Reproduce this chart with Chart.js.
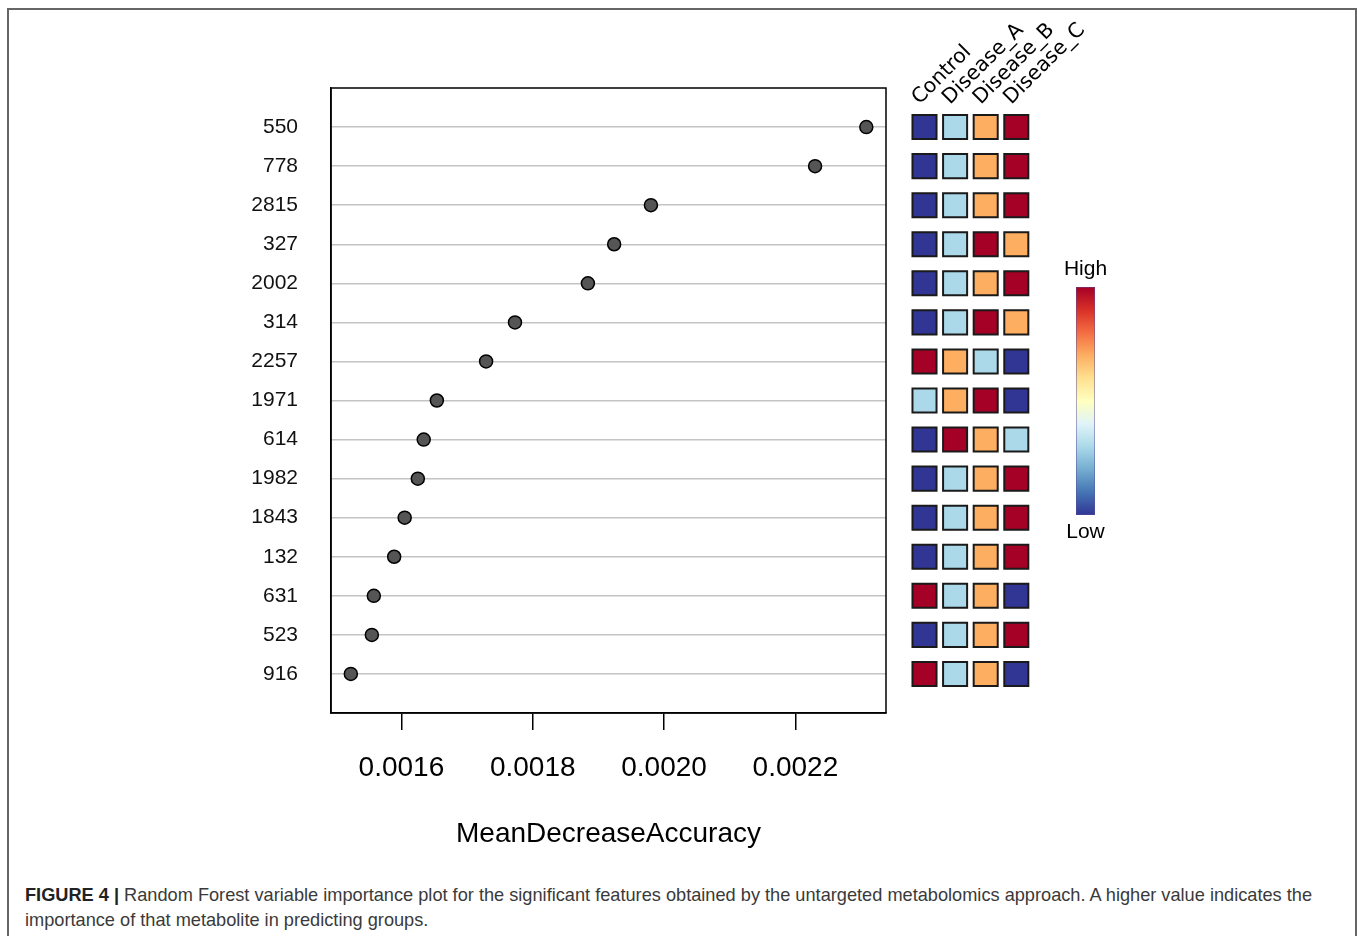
<!DOCTYPE html>
<html>
<head>
<meta charset="utf-8">
<script src="https://cdn.jsdelivr.net/npm/chart.js@4/dist/chart.umd.min.js"></script>
<style>
    html, body { margin: 0; padding: 0; background: #fff; }
    body { width: 1357px; height: 936px; position: relative; overflow: hidden; }
    .figure-box {
        position: absolute; left: 7px; top: 8px; width: 1346px; height: 1000px;
        border: 2px solid #666; border-bottom: none;
    }
    canvas { position: absolute; top: 0; }
    #dotChart { left: 0; }
    #groupChart { left: 890px; }
    .caption {
        position: absolute; left: 25px; top: 883px;
        font-family: "Liberation Sans", Arial, sans-serif; font-size: 18.2px;
        line-height: 25px; color: #3a3a3a; white-space: nowrap;
    }
    .caption b { color: #222; }
</style>
</head>
<body>
<div class="figure-box"></div>
<canvas id="dotChart" width="900" height="880"></canvas>
<canvas id="groupChart" width="260" height="880"></canvas>
<div class="caption">
    <b>FIGURE 4 |</b> Random Forest variable importance plot for the significant features obtained by the untargeted metabolomics approach. A higher value indicates the<br>
    importance of that metabolite in predicting groups.
</div>

<script>
// Features, ordered from most to least important
const features = ['550', '778', '2815', '327', '2002', '314', '2257', '1971', '614', '1982', '1843', '132', '631', '523', '916'];
const meanDecreaseAccuracy = [0.002308, 0.002230, 0.001980, 0.001924, 0.001884, 0.001773, 0.001729, 0.001654,
    0.001634, 0.001625, 0.001605, 0.001589, 0.001558, 0.001555, 0.001523];
const xTicks = [0.0016, 0.0018, 0.0020, 0.0022];

// Relative level of each feature per group (1 = lowest, 4 = highest)
const groups = ['Control', 'Disease_A', 'Disease_B', 'Disease_C'];
const groupLevels = [
    [1, 2, 3, 4], [1, 2, 3, 4], [1, 2, 3, 4], [1, 2, 4, 3], [1, 2, 3, 4],
    [1, 2, 4, 3], [4, 3, 2, 1], [2, 3, 4, 1], [1, 4, 3, 2], [1, 2, 3, 4],
    [1, 2, 3, 4], [1, 2, 3, 4], [4, 2, 3, 1], [1, 2, 3, 4], [4, 2, 3, 1]
];
const levelColors = ['#313695', '#abd9e9', '#fdae61', '#a50026'];
const rdYlBu = ['#313695', '#4575b4', '#74add1', '#abd9e9', '#e0f3f8', '#ffffbf',
    '#fee090', '#fdae61', '#f46d43', '#d73027', '#a50026'];

const sansFont = '"Liberation Sans", Arial, sans-serif';
Chart.defaults.font.family = sansFont;
Chart.defaults.color = '#000';

// Box around the plotting region, like base R's box()
const framePlugin = {
    id: 'frame',
    beforeDatasetsDraw(chart) {
        const { ctx, chartArea: a } = chart;
        ctx.save();
        ctx.strokeStyle = '#000';
        ctx.lineWidth = 1.5;
        ctx.strokeRect(a.left, a.top, a.right - a.left, a.bottom - a.top);
        ctx.restore();
    }
};

new Chart(document.getElementById('dotChart'), {
    type: 'scatter',
    data: {
        datasets: [{
            data: meanDecreaseAccuracy.map((v, i) => ({ x: v, y: i })),
            backgroundColor: '#555555',
            borderColor: '#000',
            borderWidth: 1.5,
            pointRadius: 6.5,
            pointHoverRadius: 6.5
        }]
    },
    options: {
        responsive: false,
        animation: false,
        devicePixelRatio: 1,
        events: [],
        layout: { padding: { top: 88, right: 14, left: 0, bottom: 0 } },
        plugins: { legend: { display: false }, tooltip: { enabled: false } },
        scales: {
            x: {
                type: 'linear',
                min: 0.0014928,
                max: 0.002338,
                afterBuildTicks: scale => { scale.ticks = xTicks.map(v => ({ value: v })); },
                afterFit: scale => { scale.height = 167; },
                ticks: {
                    callback: v => v.toFixed(4),
                    font: { size: 28 },
                    padding: 21,
                    maxRotation: 0
                },
                grid: { drawOnChartArea: false, drawTicks: true, tickLength: 17, color: '#000', lineWidth: 1.5 },
                border: { display: true, color: '#000', width: 1.5 },
                title: {
                    display: true,
                    text: 'MeanDecreaseAccuracy',
                    font: { size: 28 },
                    padding: { top: 0, bottom: 29 }
                }
            },
            y: {
                type: 'linear',
                min: -1,
                max: 15,
                reverse: true,
                afterBuildTicks: scale => { scale.ticks = features.map((f, i) => ({ value: i })); },
                afterFit: scale => { scale.width = 331; },
                ticks: {
                    callback: v => features[v],
                    font: { size: 21 },
                    color: '#111',
                    padding: 33
                },
                grid: { drawTicks: false, color: '#c4c4c4', lineWidth: 1.5 },
                border: { display: true, color: '#000', width: 1.5 }
            }
        }
    },
    plugins: [framePlugin]
});

// Group labels above the tiles plus the High/Low colour key
const groupDecor = {
    id: 'groupDecor',
    afterDraw(chart) {
        const { ctx } = chart;
        const xs = chart.scales.x;
        ctx.save();
        ctx.fillStyle = '#000';
        ctx.font = '20.5px "DejaVu Sans", sans-serif';
        ctx.textAlign = 'left';
        ctx.textBaseline = 'alphabetic';
        groups.forEach((g, i) => {
            ctx.save();
            ctx.translate(xs.getPixelForValue(i) - 5, 105);
            ctx.rotate(-Math.PI / 4);
            ctx.fillText(g, 0, 0);
            ctx.restore();
        });

        // colour key
        const bx = 186, by = 287, bw = 19, bh = 228;
        const grad = ctx.createLinearGradient(0, by + bh, 0, by);
        rdYlBu.forEach((c, i) => grad.addColorStop(i / (rdYlBu.length - 1), c));
        ctx.fillStyle = grad;
        ctx.fillRect(bx, by, bw, bh);
        ctx.strokeStyle = 'rgba(90, 80, 150, 0.5)';
        ctx.lineWidth = 1;
        ctx.strokeRect(bx + 0.5, by + 0.5, bw - 1, bh - 1);

        ctx.fillStyle = '#000';
        ctx.font = '21px ' + sansFont;
        ctx.textAlign = 'center';
        ctx.textBaseline = 'middle';
        ctx.fillText('High', bx + bw / 2, 269);
        ctx.fillText('Low', bx + bw / 2, 532);
        ctx.restore();
    }
};

const tiles = [];
groupLevels.forEach((row, i) => {
    row.forEach((level, j) => tiles.push({ x: j, y: i, level: level }));
});

new Chart(document.getElementById('groupChart'), {
    type: 'scatter',
    data: {
        datasets: [{
            data: tiles,
            pointStyle: 'rect',
            pointRadius: 17,
            pointHoverRadius: 17,
            backgroundColor: ctx => levelColors[ctx.raw.level - 1],
            borderColor: '#1a1a1a',
            borderWidth: 2
        }]
    },
    options: {
        responsive: false,
        animation: false,
        devicePixelRatio: 1,
        events: [],
        layout: { padding: { top: 88, right: 118.4, left: 19.2, bottom: 167 } },
        plugins: { legend: { display: false }, tooltip: { enabled: false } },
        scales: {
            x: { type: 'linear', min: -0.5, max: 3.5, display: false },
            y: { type: 'linear', min: -1, max: 15, reverse: true, display: false }
        }
    },
    plugins: [groupDecor]
});
</script>
</body>
</html>
